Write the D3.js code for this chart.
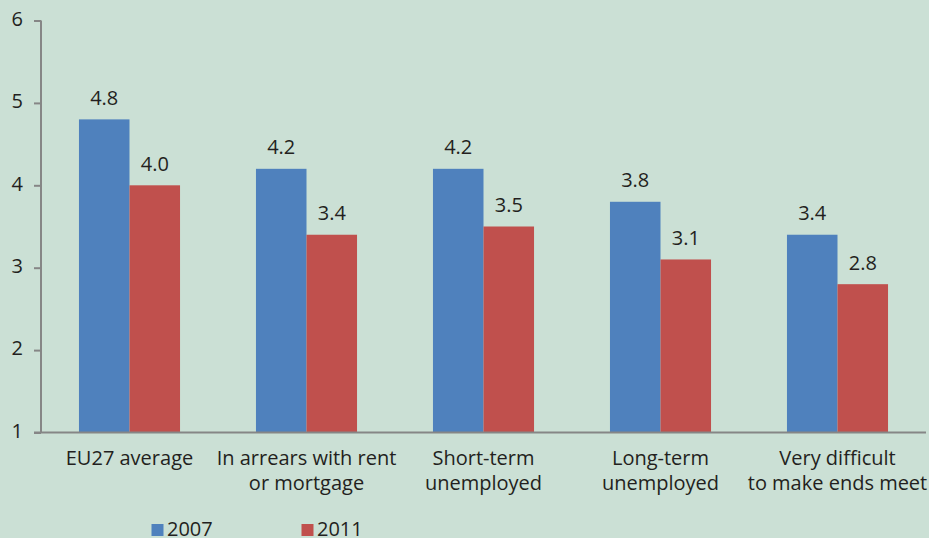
<!DOCTYPE html>
<html>
<head>
<meta charset="utf-8">
<script src="https://cdn.jsdelivr.net/npm/d3@7/dist/d3.min.js"></script>
<style>
  html, body { margin: 0; padding: 0; background: #cbe0d5; }
  svg { display: block; font-family: "Open Sans", "Noto Sans", sans-serif; }
</style>
</head>
<body>
<svg id="chart" width="929" height="538"></svg>
<script>
// Categories (two-line labels) and yearly values
const categories = [
  ["EU27 average"],
  ["In arrears with rent", "or mortgage"],
  ["Short-term", "unemployed"],
  ["Long-term", "unemployed"],
  ["Very difficult", "to make ends meet"]
];
const years = ["2007", "2011"];
const values2007 = [4.8, 4.2, 4.2, 3.8, 3.4];
const values2011 = [4.0, 3.4, 3.5, 3.1, 2.8];
const yTicks = [1, 2, 3, 4, 5, 6];

const colors = { "2007": "#4f81bd", "2011": "#c0504d" };
const textColor = "#231f20";
const axisColor = "#868686";

const svg = d3.select("#chart");
const W = 929, H = 538;
const plotLeft = 41, plotRight = 926, plotTop = 20.5, plotBottom = 432.5;

svg.append("rect").attr("width", W).attr("height", H).attr("fill", "#cbe0d5");

const y = d3.scaleLinear().domain([1, 6]).range([plotBottom, plotTop]);
const x0 = d3.scaleBand()
  .domain(d3.range(categories.length))
  .range([plotLeft, plotRight])
  .paddingInner(0.429)
  .paddingOuter(0.2145);
const x1 = d3.scaleBand().domain(years).range([0, x0.bandwidth()]);

const rows = categories.map((c, i) => ({
  i,
  label: c,
  bars: [
    { year: "2007", value: values2007[i] },
    { year: "2011", value: values2011[i] }
  ]
}));

// Bars
const groups = svg.append("g").selectAll("g")
  .data(rows).join("g")
  .attr("transform", d => `translate(${x0(d.i)},0)`);

groups.selectAll("rect")
  .data(d => d.bars).join("rect")
  .attr("x", d => x1(d.year))
  .attr("y", d => y(d.value))
  .attr("width", x1.bandwidth())
  .attr("height", d => y(1) - y(d.value))
  .attr("fill", d => colors[d.year]);

// Value labels above bars
groups.selectAll("text.val")
  .data(d => d.bars).join("text")
  .attr("class", "val")
  .attr("x", d => x1(d.year) + x1.bandwidth() / 2)
  .attr("y", d => y(d.value) - 14.5)
  .attr("text-anchor", "middle")
  .attr("font-size", 20)
  .attr("fill", textColor)
  .text(d => d3.format(".1f")(d.value));

// Y axis
const yAxis = svg.append("g")
  .attr("transform", `translate(${plotLeft},0)`)
  .call(d3.axisLeft(y).tickValues(yTicks).tickSize(7).tickPadding(11).tickFormat(d3.format("d")));
yAxis.select(".domain").attr("stroke", axisColor).attr("stroke-width", 2)
  .attr("d", `M0,${plotTop}V${plotBottom}`);
yAxis.selectAll(".tick line").attr("stroke", axisColor).attr("stroke-width", 2);
yAxis.selectAll(".tick text")
  .attr("font-size", 20)
  .attr("font-family", "Open Sans, Noto Sans, sans-serif")
  .attr("fill", textColor)
  .attr("dy", "0.24em");

// X axis baseline
svg.append("line")
  .attr("x1", plotLeft - 7).attr("x2", plotRight)
  .attr("y1", y(1)).attr("y2", y(1))
  .attr("stroke", axisColor).attr("stroke-width", 2);

// Category labels
const catText = svg.append("g").selectAll("text")
  .data(rows).join("text")
  .attr("x", d => x0(d.i) + x0.bandwidth() / 2)
  .attr("y", 465)
  .attr("text-anchor", "middle")
  .attr("font-size", 20)
  .attr("fill", textColor);
catText.selectAll("tspan")
  .data(d => d.label).join("tspan")
  .attr("x", function () { return d3.select(this.parentNode).attr("x"); })
  .attr("dy", (d, i) => i === 0 ? 0 : 25)
  .text(d => d);

// Legend
const legendX = [151.5, 301.5];
const legend = svg.append("g").selectAll("g")
  .data(years).join("g")
  .attr("transform", (d, i) => `translate(${legendX[i]},524)`);
legend.append("rect")
  .attr("width", 12).attr("height", 12)
  .attr("fill", d => colors[d]);
legend.append("text")
  .attr("x", 15.5).attr("y", 11.5)
  .attr("font-size", 20)
  .attr("fill", textColor)
  .text(d => d);
</script>
</body>
</html>
